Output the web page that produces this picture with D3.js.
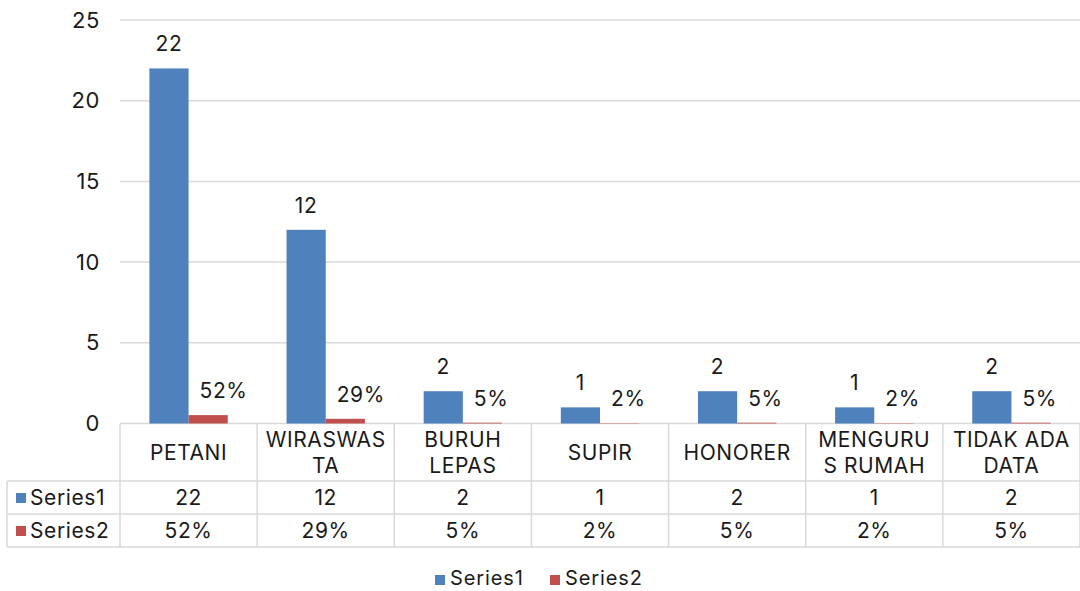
<!DOCTYPE html>
<html>
<head>
<meta charset="utf-8">
<script src="https://cdn.jsdelivr.net/npm/d3@7"></script>
<style>
html,body{margin:0;padding:0;background:#fff;}
svg text{font-family:Inter,"Noto Sans",sans-serif;fill:#1a1a1a;}
</style>
</head>
<body>
<svg id="chart" width="1080" height="591"></svg>
<script>
const categories = ["PETANI","WIRASWASTA","BURUH LEPAS","SUPIR","HONORER","MENGURUS RUMAH","TIDAK ADA DATA"];
const categoryLines = [["PETANI"],["WIRASWAS","TA"],["BURUH","LEPAS"],["SUPIR"],["HONORER"],["MENGURU","S RUMAH"],["TIDAK ADA","DATA"]];
const series1 = [22,12,2,1,2,1,2];
const series2 = [0.52,0.29,0.05,0.02,0.05,0.02,0.05];
const series2Labels = ["52%","29%","5%","2%","5%","2%","5%"];
const series1Labels = ["22","12","2","1","2","1","2"];
const seriesNames = ["Series1","Series2"];
const yTicks = [0,5,10,15,20,25];
const colors = ["#4F81BD","#C0504D"];

(function(){
const svg = d3.select("#chart");
const pLeft = 120, pRight = 1080, pTop = 20, pBottom = 423.5;
const fs = 21, ls = "0.6px";
const gridColor = "#d9d9d9";

const x = d3.scaleBand().domain(categories).range([pLeft,pRight]).paddingInner(0).paddingOuter(0);
const bw = x.bandwidth()/3.5;
const y = d3.scaleLinear().domain([0,25]).range([pBottom,pTop]);

svg.append("g").selectAll("line").data(yTicks).join("line")
  .attr("x1",pLeft).attr("x2",pRight)
  .attr("y1",d=>y(d)).attr("y2",d=>y(d))
  .attr("stroke",gridColor).attr("stroke-width",1.5);

const yAxis = d3.axisLeft(y).tickValues(yTicks).tickSize(0).tickPadding(0);
const ya = svg.append("g").attr("transform",`translate(${pLeft-20},0)`).call(yAxis);
ya.select(".domain").remove();
ya.selectAll("text").attr("font-size",fs+1).attr("font-family","Inter, 'Noto Sans', sans-serif").attr("fill","#1a1a1a").style("letter-spacing",ls);

const bx = (i,s) => x(categories[i]) + x.bandwidth()/2 - bw + s*bw;
[series1,series2].forEach((ser,s)=>{
  svg.append("g").selectAll("rect").data(ser).join("rect")
    .attr("x",(d,i)=>bx(i,s)).attr("width",bw)
    .attr("y",d=>y(d)).attr("height",d=>y(0)-y(d))
    .attr("fill",colors[s]);
});

svg.append("g").selectAll("text").data(series1).join("text")
  .attr("x",(d,i)=>bx(i,0)+bw/2).attr("y",d=>y(d)-17)
  .attr("text-anchor","middle").attr("font-size",fs).style("letter-spacing",ls)
  .text((d,i)=>series1Labels[i]);
svg.append("g").selectAll("text").data(series2).join("text")
  .attr("x",(d,i)=>bx(i,1)+11).attr("y",d=>y(d)-17)
  .attr("text-anchor","start").attr("font-size",fs).style("letter-spacing",ls)
  .text((d,i)=>series2Labels[i]);

const rowTop = [pBottom, 481, 514, 547];
const tg = svg.append("g");
[1,2,3].forEach(r=>{
  tg.append("line").attr("x1",7).attr("x2",pRight).attr("y1",rowTop[r]).attr("y2",rowTop[r]).attr("stroke",gridColor).attr("stroke-width",1.5);
});
const vx = categories.map(c=>x(c)).concat([pRight]);
tg.selectAll("line.v").data(vx).join("line").attr("class","v")
  .attr("x1",d=>d).attr("x2",d=>d).attr("y1",pBottom).attr("y2",rowTop[3])
  .attr("stroke",gridColor).attr("stroke-width",1.5);
tg.append("line").attr("x1",7).attr("x2",7).attr("y1",rowTop[1]).attr("y2",rowTop[3]).attr("stroke",gridColor).attr("stroke-width",1.5);

categoryLines.forEach((lines,i)=>{
  const cx = x(categories[i]) + x.bandwidth()/2;
  const cy = (rowTop[0]+rowTop[1])/2;
  const lh = 26;
  lines.forEach((ln,j)=>{
    tg.append("text").attr("x",cx).attr("y",cy + (j-(lines.length-1)/2)*lh + 7.5)
      .attr("text-anchor","middle").attr("font-size",fs).style("letter-spacing",ls).text(ln);
  });
});
[series1Labels,series2Labels].forEach((labs,s)=>{
  const cy = (rowTop[s+1]+rowTop[s+2])/2 + 7.5;
  tg.append("g").selectAll("text").data(labs).join("text")
    .attr("x",(d,i)=>x(categories[i])+x.bandwidth()/2).attr("y",cy)
    .attr("text-anchor","middle").attr("font-size",fs).style("letter-spacing",ls).text(d=>d);
  tg.append("rect").attr("x",16).attr("y",cy-12).attr("width",10).attr("height",10).attr("fill",colors[s]);
  tg.append("text").attr("x",30).attr("y",cy).attr("font-size",fs).style("letter-spacing",ls).text(seriesNames[s]);
});

const lg = svg.append("g");
const legX = [435, 550];
seriesNames.forEach((n,s)=>{
  lg.append("rect").attr("x",legX[s]).attr("y",575).attr("width",10).attr("height",10).attr("fill",colors[s]);
  lg.append("text").attr("x",legX[s]+15).attr("y",585).attr("font-size",fs-1).style("letter-spacing","0.9px").text(n);
});
})();
</script>
</body>
</html>
